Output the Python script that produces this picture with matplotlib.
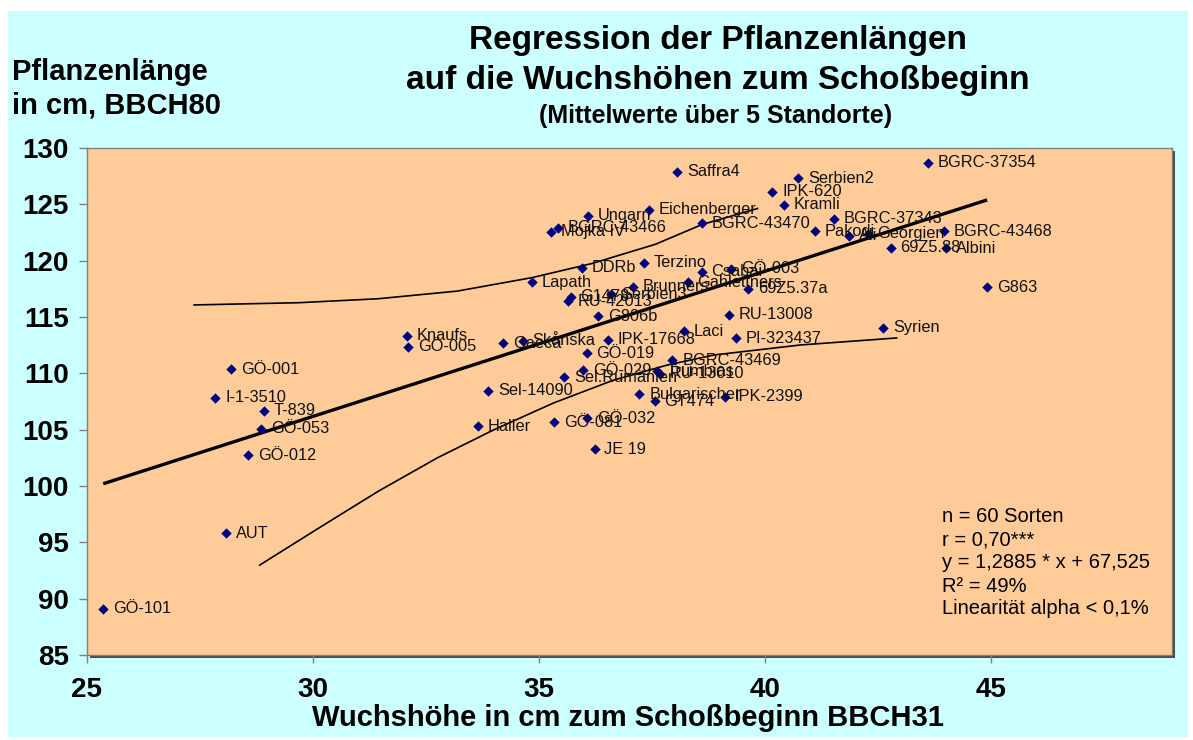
import matplotlib
matplotlib.use("Agg")
import matplotlib.pyplot as plt
from matplotlib.patches import Rectangle

plt.rcParams['font.family'] = ['Liberation Sans', 'DejaVu Sans']

# ---------------- data ----------------
names = ["GÖ-101", "AUT", "GÖ-012", "GÖ-053", "T-839", "I-1-3510", "GÖ-001",
         "Knaufs", "GÖ-005", "Haller", "Sel-14090", "Saffra4", "Ungarn",
         "Eichenberger", "BGRC-43470", "BGRC-43466", "Mojka IV", "DDRb",
         "Terzino", "Lapath", "Brunners", "Gahlettners", "Csabai", "GÖ-003",
         "69Z5.37a", "RU-42013", "G1478", "Serbien3", "G806b", "Laci",
         "RU-13008", "PI-323437", "Gaeca", "Skånska", "IPK-17668", "GÖ-019",
         "BGRC-43469", "GÖ-029", "Trumbias", "RU-13010", "Sel.Rumänien",
         "Bulgarischer", "GT474", "IPK-2399", "GÖ-081", "GÖ-032", "JE 19",
         "BGRC-37354", "Serbien2", "IPK-620", "Kramli", "BGRC-37343", "Pakodi",
         "Ali", "Georgien", "BGRC-43468", "69Z5.88", "Albini", "G863", "Syrien"]
x_vals = [25.36, 28.08, 28.57, 28.85, 28.92, 27.84, 28.19,
          32.07, 32.11, 33.65, 33.88, 38.06, 36.08,
          37.44, 38.60, 35.42, 35.27, 35.95,
          37.31, 34.85, 37.08, 38.29, 38.60, 39.25,
          39.62, 35.64, 35.70, 36.60, 36.31, 38.21,
          39.19, 39.36, 34.20, 34.64, 36.53, 36.05,
          37.95, 35.97, 37.61, 37.67, 35.56,
          37.22, 37.56, 39.11, 35.34, 36.07, 36.23,
          43.61, 40.73, 40.16, 40.41, 41.53, 41.11,
          41.86, 42.27, 43.96, 42.78, 44.01, 44.91, 42.61]
y_vals = [89.09, 95.79, 102.74, 105.08, 106.68, 107.83, 110.36,
          113.34, 112.36, 105.32, 108.45, 127.9, 124.0,
          124.5, 123.3, 122.9, 122.55, 119.35,
          119.8, 118.1, 117.7, 118.1, 119.0, 119.3,
          117.5, 116.4, 116.8, 117.0, 115.06, 113.73,
          115.18, 113.13, 112.66, 112.9, 112.96, 111.78,
          111.15, 110.29, 110.2, 109.95, 109.64,
          108.16, 107.54, 107.92, 105.65, 106.0, 103.25,
          128.7, 127.3, 126.1, 124.95, 123.7, 122.6,
          122.2, 122.4, 122.6, 121.15, 121.1, 117.66, 114.05]

# regression (from chart annotation)
slope, intercept = 1.2885, 67.525
reg_x = [min(x_vals), max(x_vals)]

# curved lines
upper_x = [27.37, 29.69, 31.44, 33.19, 34.85, 36.17, 37.57, 38.60, 39.83]
upper_y = [116.07, 116.27, 116.62, 117.3, 118.5, 119.75, 121.45, 123.2, 124.63]
lower_x = [28.82, 30.1, 31.45, 32.75, 33.99, 35.32, 36.65, 37.84, 38.87, 40.79, 42.91]
lower_y = [92.98, 96.2, 99.55, 102.5, 104.97, 107.37, 109.4, 110.74, 111.63, 112.52, 113.14]

stats_lines = ["n = 60 Sorten", "r = 0,70***", "y = 1,2885 * x + 67,525",
               "R² = 49%", "Linearität alpha < 0,1%"]

title1 = "Regression der Pflanzenlängen"
title2 = "auf die Wuchshöhen zum Schoßbeginn"
subtitle = "(Mittelwerte über 5 Standorte)"
ylabel_lines = ["Pflanzenlänge", "in cm, BBCH80"]
xlabel = "Wuchshöhe in cm zum Schoßbeginn BBCH31"
x_ticks = [25, 30, 35, 40, 45]
y_ticks = [85, 90, 95, 100, 105, 110, 115, 120, 125, 130]

# ---------------- figure ----------------
W, H = 1193, 740
fig = plt.figure(figsize=(W / 100, H / 100), dpi=100, facecolor='white')

def fx(px):
    return px / W

def fy(py):
    return 1 - py / H

# cyan chart area
fig.patches.append(Rectangle((fx(8), fy(737)), fx(1188) - fx(8), fy(11) - fy(737),
                             transform=fig.transFigure, facecolor='#CCFFFF',
                             edgecolor='none', zorder=-3))

L, R, T, B = 87, 1172, 148, 655
# shadow of plot area
fig.patches.append(Rectangle((fx(L + 3), fy(B + 3)), fx(R) - fx(L), fy(T) - fy(B),
                             transform=fig.transFigure, facecolor='#4a4a4a',
                             edgecolor='none', zorder=-2))

ax = fig.add_axes([fx(L), fy(B), fx(R) - fx(L), fy(T) - fy(B)])
ax.set_facecolor('#FFCC99')
for s in ax.spines.values():
    s.set_color('#808080')
    s.set_linewidth(1.0)

ax.set_xlim(25, 49)
ax.set_ylim(85, 130)
ax.set_xticks(x_ticks)
ax.set_yticks(y_ticks)
ax.tick_params(axis='both', direction='out', length=6, width=1, color='#808080',
               labelsize=20)
ax.tick_params(axis='x', pad=10)
ax.tick_params(axis='y', pad=7)
for lab in ax.get_xticklabels() + ax.get_yticklabels():
    lab.set_fontweight('bold')

# lines
ax.plot(reg_x, [slope * v + intercept for v in reg_x], color='black', lw=2.4,
        zorder=3, solid_capstyle='butt')
ax.plot(upper_x, upper_y, color='black', lw=1.2, zorder=3)
ax.plot(lower_x, lower_y, color='black', lw=1.2, zorder=3)

# points
ax.scatter(x_vals, y_vals, marker='D', s=28, color='#000080', zorder=4,
           linewidths=0)
for n, xv, yv in zip(names, x_vals, y_vals):
    ax.annotate(n, (xv, yv), xytext=(7, 0), textcoords='offset points',
                ha='left', va='center', fontsize=11.8, color='#111111', zorder=5)

# stats block
for i, line in enumerate(stats_lines):
    fig.text(fx(942), fy(517 + 23 * i), line, ha='left', va='center',
             fontsize=14.5, color='black')

# titles
fig.text(fx(718), fy(40), title1, ha='center', va='center', fontsize=24,
         fontweight='bold')
fig.text(fx(718), fy(80), title2, ha='center', va='center', fontsize=24,
         fontweight='bold')
fig.text(fx(716), fy(116), subtitle, ha='center', va='center', fontsize=18,
         fontweight='bold')

# y label (top-left)
fig.text(fx(12), fy(72), ylabel_lines[0], ha='left', va='center', fontsize=21,
         fontweight='bold')
fig.text(fx(12), fy(105), ylabel_lines[1], ha='left', va='center', fontsize=21,
         fontweight='bold')

# x label
fig.text(fx(628), fy(718), xlabel, ha='center', va='center', fontsize=21,
         fontweight='bold')

fig.savefig('out.png', dpi=100, facecolor=fig.get_facecolor())
